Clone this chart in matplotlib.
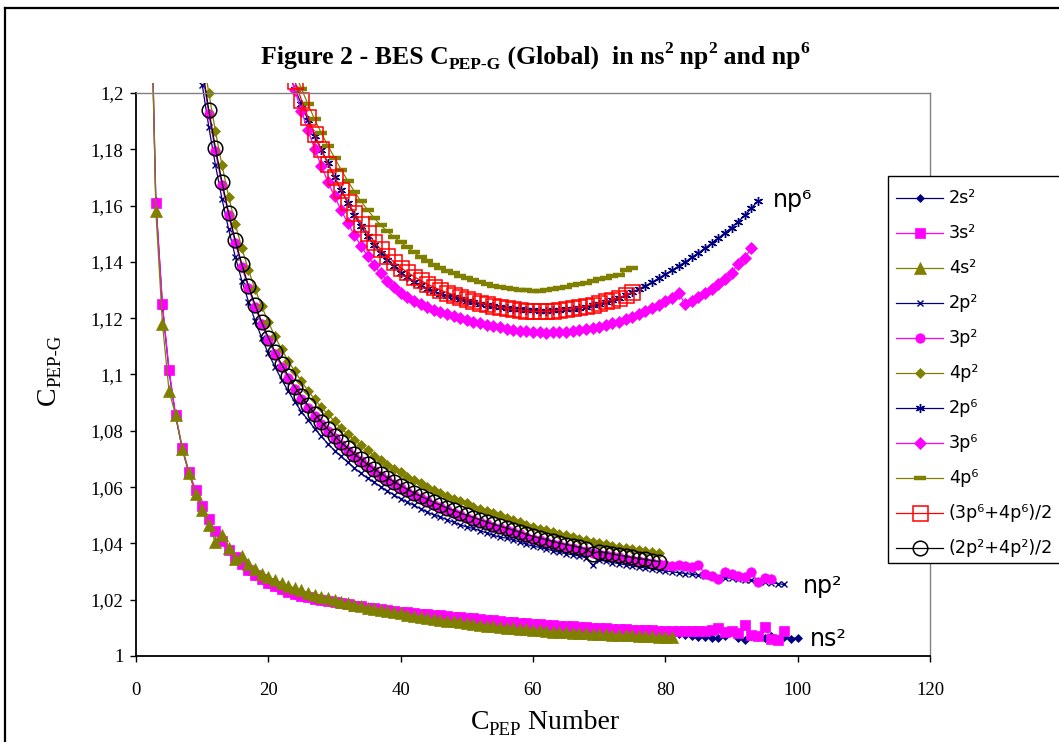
import matplotlib
matplotlib.use("Agg")
import matplotlib.pyplot as plt
from matplotlib.patches import Rectangle
from matplotlib.lines import Line2D
from matplotlib.ticker import FixedLocator, FuncFormatter

W, H, DPI = 1059, 742, 100
SERIF = "Liberation Serif"
SANS = "DejaVu Sans"
NAVY, MAGENTA, OLIVE, RED, BLACK = "#000080", "#FF00FF", "#808000", "#FF0000", "#000000"

plt.rcParams["font.family"] = SERIF

# ---------------- data : ns2 ----------------
x_2s2 = list(range(2, 101))
y_2s2 = [1.2650, 1.1615, 1.1240, 1.1010, 1.0850, 1.0735, 1.0650, 1.0585,
         1.0530, 1.0482, 1.0442, 1.0407, 1.0375, 1.0347, 1.0323, 1.0302, 1.0285, 1.0270,
         1.0257, 1.0246, 1.0236, 1.0227, 1.0218, 1.0211, 1.0205, 1.0200, 1.0196, 1.0192,
         1.0188, 1.0184, 1.0180, 1.0177, 1.0173, 1.0170, 1.0167, 1.0164, 1.0161, 1.0158,
         1.0155, 1.0153, 1.0150, 1.0148, 1.0146, 1.0144, 1.0142, 1.0140, 1.0138, 1.0136,
         1.0134, 1.0132, 1.0129, 1.0127, 1.0125, 1.0123, 1.0120, 1.0118, 1.0116, 1.0114,
         1.0112, 1.0110, 1.0108, 1.0106, 1.0105, 1.0103, 1.0101, 1.0100, 1.0098, 1.0097,
         1.0095, 1.0094, 1.0093, 1.0091, 1.0090, 1.0089, 1.0088, 1.0087, 1.0086, 1.0085,
         1.0084, 1.0082, 1.0078, 1.0075, 1.0070, 1.0068, 1.0066, 1.0065, 1.0063, 1.0070,
         1.0088, 1.0065, 1.0058, 1.0072, 1.0066, 1.0063, 1.0070, 1.0060, 1.0068, 1.0062,
         1.0065]

x_3s2 = list(range(2, 99))
y_3s2 = [1.2600, 1.1610, 1.1250, 1.1015, 1.0855, 1.0740, 1.0655, 1.0590,
         1.0533, 1.0485, 1.0445, 1.0410, 1.0378, 1.0350, 1.0326, 1.0305, 1.0288, 1.0273,
         1.0259, 1.0248, 1.0238, 1.0229, 1.0220, 1.0213, 1.0208, 1.0203, 1.0199, 1.0195,
         1.0191, 1.0187, 1.0183, 1.0179, 1.0176, 1.0172, 1.0169, 1.0166, 1.0163, 1.0160,
         1.0157, 1.0155, 1.0152, 1.0150, 1.0148, 1.0146, 1.0144, 1.0142, 1.0140, 1.0138,
         1.0136, 1.0134, 1.0131, 1.0129, 1.0127, 1.0125, 1.0122, 1.0120, 1.0118, 1.0116,
         1.0114, 1.0112, 1.0111, 1.0109, 1.0108, 1.0106, 1.0105, 1.0103, 1.0102, 1.0100,
         1.0099, 1.0098, 1.0097, 1.0096, 1.0095, 1.0094, 1.0093, 1.0092, 1.0091, 1.0090,
         1.0089, 1.0090, 1.0089, 1.0088, 1.0090, 1.0089, 1.0088, 1.0092, 1.0100, 1.0084,
         1.0088, 1.0080, 1.0110, 1.0075, 1.0070, 1.0102, 1.0060, 1.0058, 1.0090]

x_4s2 = list(range(2, 82))
y_4s2 = [1.2700, 1.1580, 1.1180, 1.0940, 1.0855, 1.0735, 1.0650, 1.0575,
         1.0520, 1.0465, 1.0405, 1.0430, 1.0385, 1.0345, 1.0355, 1.0328, 1.0310, 1.0293,
         1.0280, 1.0270, 1.0258, 1.0250, 1.0241, 1.0233, 1.0224, 1.0217, 1.0211, 1.0205,
         1.0199, 1.0193, 1.0187, 1.0182, 1.0177, 1.0172, 1.0168, 1.0163, 1.0159, 1.0155,
         1.0151, 1.0147, 1.0143, 1.0139, 1.0135, 1.0132, 1.0129, 1.0126, 1.0123, 1.0120,
         1.0117, 1.0114, 1.0111, 1.0108, 1.0106, 1.0103, 1.0101, 1.0099, 1.0097, 1.0095,
         1.0093, 1.0091, 1.0089, 1.0087, 1.0086, 1.0084, 1.0083, 1.0081, 1.0080, 1.0079,
         1.0078, 1.0077, 1.0076, 1.0075, 1.0074, 1.0073, 1.0072, 1.0071, 1.0070, 1.0069,
         1.0068, 1.0067]

# ---------------- data : np2 ----------------
x_2p2 = list(range(10, 99))
y_2p2 = [1.2030,
         1.1880, 1.1745, 1.1623, 1.1516, 1.1419, 1.1333, 1.1259, 1.1191, 1.1130, 1.1075,
         1.1027, 1.0982, 1.0941, 1.0903, 1.0868, 1.0838, 1.0808, 1.0780, 1.0754, 1.0730,
         1.0709, 1.0688, 1.0668, 1.0649, 1.0631, 1.0617, 1.0601, 1.0586, 1.0572, 1.0558,
         1.0547, 1.0535, 1.0523, 1.0512, 1.0501, 1.0494, 1.0484, 1.0475, 1.0466, 1.0458,
         1.0453, 1.0445, 1.0437, 1.0429, 1.0422, 1.0419, 1.0412, 1.0405, 1.0397, 1.0390,
         1.0386, 1.0380, 1.0374, 1.0368, 1.0363, 1.0360, 1.0355, 1.0349, 1.0322, 1.0340,
         1.0337, 1.0332, 1.0328, 1.0324, 1.0320, 1.0316, 1.0313, 1.0309, 1.0305,
         1.0302, 1.0299, 1.0296, 1.0293, 1.0290, 1.0288, 1.0285, 1.0283, 1.0280, 1.0278,
         1.0276, 1.0273, 1.0271, 1.0269, 1.0266, 1.0263, 1.0260, 1.0257, 1.0254]

x_3p2 = list(range(10, 97))
y_3p2 = [1.2080,
         1.1925, 1.1793, 1.1672, 1.1565, 1.1468, 1.1383, 1.1307, 1.1239, 1.1178, 1.1123,
         1.1073, 1.1028, 1.0987, 1.0949, 1.0914, 1.0882, 1.0852, 1.0824, 1.0798, 1.0774,
         1.0751, 1.0730, 1.0710, 1.0691, 1.0673, 1.0656, 1.0640, 1.0625, 1.0611, 1.0597,
         1.0584, 1.0572, 1.0560, 1.0549, 1.0538, 1.0528, 1.0518, 1.0509, 1.0500, 1.0492,
         1.0484, 1.0476, 1.0468, 1.0460, 1.0453, 1.0446, 1.0439, 1.0432, 1.0424, 1.0417,
         1.0411, 1.0405, 1.0399, 1.0393, 1.0388, 1.0383, 1.0378, 1.0372, 1.0367, 1.0363,
         1.0359, 1.0354, 1.0350, 1.0346, 1.0342, 1.0338, 1.0335, 1.0331, 1.0327,
         1.0322, 1.0320, 1.0322, 1.0318, 1.0315, 1.0322, 1.0292, 1.0285, 1.0272, 1.0298,
         1.0292, 1.0285, 1.0280, 1.0300, 1.0262, 1.0278, 1.0275]

x_4p2 = list(range(10, 80))
y_4p2 = [1.2150,
         1.2000, 1.1865, 1.1743, 1.1632, 1.1535, 1.1449, 1.1371, 1.1303, 1.1242, 1.1187,
         1.1135, 1.1090, 1.1049, 1.1011, 1.0976, 1.0942, 1.0912, 1.0884, 1.0858, 1.0834,
         1.0809, 1.0788, 1.0768, 1.0749, 1.0731, 1.0711, 1.0695, 1.0680, 1.0666, 1.0652,
         1.0637, 1.0625, 1.0613, 1.0602, 1.0591, 1.0578, 1.0568, 1.0559, 1.0550, 1.0542,
         1.0531, 1.0523, 1.0515, 1.0507, 1.0500, 1.0489, 1.0482, 1.0475, 1.0467, 1.0460,
         1.0452, 1.0446, 1.0440, 1.0434, 1.0429, 1.0422, 1.0417, 1.0411, 1.0406, 1.0402,
         1.0397, 1.0392, 1.0388, 1.0384, 1.0380, 1.0376, 1.0373, 1.0369, 1.0365]

# ---------------- data : np6 ----------------
x_2p6 = list(range(23, 95))
y_2p6 = [1.2075, 1.2015, 1.1960, 1.1903, 1.1848, 1.1798, 1.1752, 1.1702, 1.1655,
         1.1610, 1.1567, 1.1527, 1.1491, 1.1460, 1.1432, 1.1407, 1.1384, 1.1362, 1.1345,
         1.1330, 1.1317, 1.1305, 1.1295, 1.1287, 1.1280, 1.1274, 1.1268, 1.1262, 1.1257,
         1.1252, 1.1248, 1.1244, 1.1240, 1.1237, 1.1234, 1.1231, 1.1229, 1.1228, 1.1227,
         1.1227, 1.1228, 1.1229, 1.1231, 1.1234, 1.1237, 1.1241, 1.1246, 1.1251, 1.1257,
         1.1264, 1.1272, 1.1281, 1.1292, 1.1303, 1.1315, 1.1328, 1.1342, 1.1356, 1.1370,
         1.1385, 1.1400, 1.1416, 1.1432, 1.1449, 1.1466, 1.1484, 1.1503, 1.1522, 1.1543,
         1.1565, 1.1590, 1.1618]

x_3p6 = list(range(23, 94))
y_3p6 = [1.2090, 1.2010, 1.1936, 1.1867, 1.1802, 1.1741, 1.1685, 1.1633, 1.1584,
         1.1538, 1.1496, 1.1457, 1.1421, 1.1388, 1.1359, 1.1333, 1.1310, 1.1289, 1.1275,
         1.1262, 1.1250, 1.1240, 1.1230, 1.1222, 1.1214, 1.1207, 1.1200, 1.1194, 1.1188,
         1.1182, 1.1177, 1.1172, 1.1167, 1.1163, 1.1159, 1.1156, 1.1153, 1.1151, 1.1150,
         1.1149, 1.1150, 1.1151, 1.1152, 1.1154, 1.1157, 1.1160, 1.1164, 1.1168, 1.1175,
         1.1182, 1.1188, 1.1196, 1.1205, 1.1214, 1.1225, 1.1236, 1.1248, 1.1260, 1.1270,
         1.1290, 1.1250, 1.1262, 1.1275, 1.1288, 1.1305, 1.1322, 1.1340, 1.1362, 1.1392,
         1.1415, 1.1448]

x_4p6 = list(range(24, 76))
y_4p6 = [1.2075, 1.2015, 1.1960, 1.1906, 1.1858, 1.1813, 1.1770, 1.1728, 1.1688,
         1.1650, 1.1615, 1.1585, 1.1556, 1.1530, 1.1508, 1.1488, 1.1470, 1.1452, 1.1434,
         1.1418, 1.1403, 1.1390, 1.1378, 1.1368, 1.1359, 1.1350, 1.1342, 1.1335, 1.1328,
         1.1322, 1.1316, 1.1311, 1.1306, 1.1303, 1.1300, 1.1299, 1.1297, 1.1298, 1.1300,
         1.1302, 1.1309, 1.1311, 1.1318, 1.1320, 1.1326, 1.1333, 1.1340, 1.1344, 1.1350,
         1.1352, 1.1370, 1.1378]


def pair_mean(xa, ya, xb, yb):
    """Mean of two series over the x values they share."""
    lookup = dict(zip(xb, yb))
    xs = [x for x in xa if x in lookup]
    ys = [(ya[xa.index(x)] + lookup[x]) / 2 for x in xs]
    return xs, ys


x_avg6, y_avg6 = pair_mean(x_3p6, y_3p6, x_4p6, y_4p6)
x_avg2, y_avg2 = pair_mean(x_2p2, y_2p2, x_4p2, y_4p2)

ASTERISK = (6, 2, 0)
series = [
    ("2s\u00b2", x_2s2, y_2s2, dict(color=NAVY, marker="D", ms=4.2, mfc=NAVY, mec=NAVY, mew=0.5)),
    ("3s\u00b2", x_3s2, y_3s2, dict(color=MAGENTA, marker="s", ms=6.5, mfc=MAGENTA, mec=MAGENTA, mew=0.5)),
    ("4s\u00b2", x_4s2, y_4s2, dict(color=OLIVE, marker="^", ms=8, mfc=OLIVE, mec=OLIVE, mew=0.5)),
    ("2p\u00b2", x_2p2, y_2p2, dict(color=NAVY, marker="x", ms=5, mec=NAVY, mew=1.0)),
    ("3p\u00b2", x_3p2, y_3p2, dict(color=MAGENTA, marker="o", ms=6.8, mfc=MAGENTA, mec=MAGENTA, mew=0.5)),
    ("4p\u00b2", x_4p2, y_4p2, dict(color=OLIVE, marker="D", ms=5.2, mfc=OLIVE, mec=OLIVE, mew=0.5)),
    ("2p\u2076", x_2p6, y_2p6, dict(color=NAVY, marker=ASTERISK, ms=6.5, mec=NAVY, mew=1.0)),
    ("3p\u2076", x_3p6, y_3p6, dict(color=MAGENTA, marker="D", ms=5.8, mfc=MAGENTA, mec=MAGENTA, mew=0.5)),
    ("4p\u2076", x_4p6, y_4p6, dict(color=OLIVE, marker="_", ms=8, mec=OLIVE, mew=3.2)),
    ("(3p\u2076+4p\u2076)/2", x_avg6, y_avg6, dict(color=RED, marker="s", ms=10.8, mfc="none", mec=RED, mew=1.1)),
    ("(2p\u00b2+4p\u00b2)/2", x_avg2, y_avg2, dict(color=BLACK, marker="o", ms=10.5, mfc="none", mec=BLACK, mew=1.1)),
]

fig = plt.figure(figsize=(W / DPI, H / DPI), dpi=DPI)
fig.patch.set_facecolor("white")
renderer = fig.canvas.get_renderer()

L, R, T, B = 136, 930, 93, 656
ax = fig.add_axes([L / W, 1 - B / H, (R - L) / W, (B - T) / H])
ax.set_xlim(0, 120)
ax.set_ylim(1.0, 1.2)

# lines may run a few pixels above the plot frame, as in the spreadsheet chart
clip_rect = Rectangle((0, 0), 1, 1 + 10 / (B - T), transform=ax.transAxes)
for label, xs, ys, st in series:
    (ln,) = ax.plot(xs, ys, lw=0.9, label=label, **st)
    ln.set_clip_path(clip_rect)

# axes frame
for side in ("top", "right"):
    ax.spines[side].set_color("#808080")
    ax.spines[side].set_linewidth(1.0)
for side in ("left", "bottom"):
    ax.spines[side].set_color("black")
    ax.spines[side].set_linewidth(1.3)

ax.xaxis.set_major_locator(FixedLocator(list(range(0, 121, 20))))
ax.yaxis.set_major_locator(FixedLocator([1.0 + 0.02 * i for i in range(11)]))


def comma_fmt(v, _pos):
    s = f"{v:.2f}".rstrip("0").rstrip(".")
    return s.replace(".", ",")


ax.yaxis.set_major_formatter(FuncFormatter(comma_fmt))
ax.tick_params(axis="both", direction="out", length=4, width=1, colors="black", labelsize=13.5)
ax.tick_params(axis="y", pad=5)
ax.tick_params(axis="x", pad=15)

# curve-family labels
lab_kw = dict(family=SANS, fontsize=17, va="center", ha="left", clip_on=False)
ax.text(96.3, 1.1620, "np\u2076", **lab_kw)
ax.text(100.8, 1.0250, "np\u00b2", **lab_kw)
ax.text(101.8, 1.0062, "ns\u00b2", **lab_kw)


# ---------- rich text with sub/superscripts ----------
def rich(x_px, y_px, parts, size, weight="normal", rotation=0):
    scale = {"": 1.0, "sub": 0.68, "sup": 0.68}
    shift = {"": 0.0, "sub": -0.20, "sup": 0.42}
    widths = []
    for s, k in parts:
        t = fig.text(0, 0, s, fontsize=size * scale[k], family=SERIF, weight=weight)
        widths.append(t.get_window_extent(renderer).width)
        t.remove()
    em = size * DPI / 72
    pos = -sum(widths) / 2
    for (s, k), w in zip(parts, widths):
        off = shift[k] * em
        if rotation == 0:
            X, Y = x_px + pos, y_px - off
        else:
            X, Y = x_px - off, y_px - pos
        fig.text(X / W, 1 - Y / H, s, fontsize=size * scale[k], family=SERIF,
                 weight=weight, ha="left", va="baseline", rotation=rotation,
                 rotation_mode="anchor")
        pos += w


rich(535, 64, [("Figure 2 - BES C", ""), ("PEP-G", "sub"), (" (Global)  in ns", ""),
               ("2", "sup"), (" np", ""), ("2", "sup"), (" and np", ""), ("6", "sup")],
     18.5, weight="bold")
rich(545, 729, [("C", ""), ("PEP", "sub"), (" Number", "")], 20)
rich(55, 370, [("C", ""), ("PEP-G", "sub")], 20, rotation=90)

# ---------- legend box ----------
LX0, LY0, LX1, LY1 = 888, 176, 1075, 563
fig.add_artist(Rectangle((LX0 / W, 1 - LY1 / H), (LX1 - LX0) / W, (LY1 - LY0) / H,
                         transform=fig.transFigure, facecolor="white",
                         edgecolor="black", lw=1.0))
for i, (label, _xs, _ys, st) in enumerate(series):
    yc = 197.7 + 35.05 * i
    yf = 1 - yc / H
    fig.add_artist(Line2D([896 / W, 943 / W], [yf, yf], transform=fig.transFigure,
                          color=st["color"], lw=0.9))
    mk = {k: v for k, v in st.items() if k != "color"}
    fig.add_artist(Line2D([919.5 / W], [yf], transform=fig.transFigure,
                          linestyle="none", **mk))
    fig.text(949 / W, yf, label, family=SANS, fontsize=12.7, va="center", ha="left")

# outer chart border
fig.add_artist(Line2D([5 / W, 1.0], [1 - 8 / H, 1 - 8 / H], transform=fig.transFigure,
                      color="black", lw=1.6))
fig.add_artist(Line2D([5 / W, 5 / W], [1 - 8 / H, 0.0], transform=fig.transFigure,
                      color="black", lw=1.6))

fig.savefig("out.png", dpi=DPI, facecolor="white")
